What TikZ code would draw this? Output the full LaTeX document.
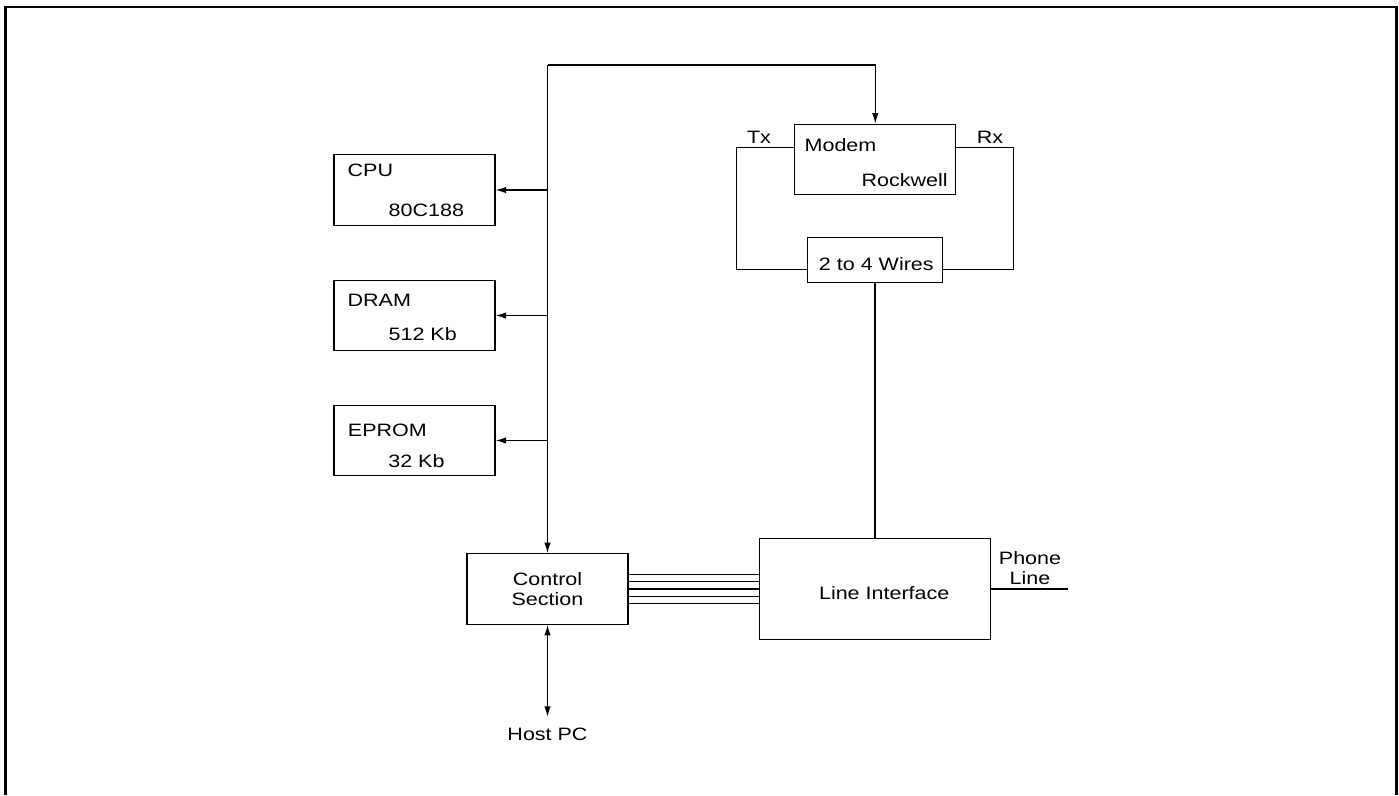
\documentclass[tikz,border=0pt]{standalone}
\usepackage{fontspec}
\setmainfont{Liberation Sans}[FakeStretch=1.2]
\usetikzlibrary{arrows.meta}
\begin{document}
\begin{tikzpicture}[x=0.02cm, y=-0.02cm, >={Latex[length=2.1mm,width=1.3mm]},
    font=\fontsize{10.2}{11}\selectfont, line width=0.75pt]
    \tikzset{blk/.style={draw, minimum width=3.22cm, minimum height=1.41cm, inner sep=0pt, align=center},
             lbl/.style={inner sep=0pt, anchor=base west}}
    \useasboundingbox (0,0) rectangle (1399,795);
    \draw[line width=1.4pt] (5.5,795) -- (5.5,7) -- (1396.5,7) -- (1396.5,795);
    % memory and cpu
    \node[blk] (cpu) at (414.5,190) {};
    \node[blk] (dram) at (414.5,315.5) {};
    \node[blk] (eprom) at (414.5,440.5) {};
    \node[lbl] (cpuname) at (347,176) {CPU};
    \node[lbl] (cputype) at (388,216) {80C188};
    \node[lbl] (dramname) at (347,306.7) {DRAM};
    \node[lbl] (dramsize) at (388,340) {512 Kb};
    \node[lbl] (epromname) at (347.3,436) {EPROM};
    \node[lbl] (epromsize) at (387.7,467.7) {32 Kb};
    % modem side
    \node[blk] (modem) at (875.3,159.5) {};
    \node[lbl] (modemname) at (804,151.7) {Modem};
    \node[lbl, anchor=base east] (modemmaker) at (948.3,186.7) {Rockwell};
    \node[draw, minimum width=2.69cm, minimum height=0.91cm] (conv) at (875,260) {};
    \node[lbl, anchor=base] (convtext) at (876.3,270.7) {2 to 4 Wires};
    \node[lbl, anchor=base] (tx) at (759,143.3) {Tx};
    \node[lbl, anchor=base] (rx) at (990,143.3) {Rx};
    % bottom row
    \node[blk] (ctrl) at (547.5,589) {Control\\Section};
    \node[draw, minimum width=4.63cm, minimum height=2.02cm] (lif) at (875,589) {};
    \node[lbl, anchor=base] (liftext) at (884.2,599.3) {Line Interface};
    \node[inner sep=0pt, anchor=south, align=center] (phone) at (1030,585) {Phone\\Line};
    \node[lbl, anchor=base] (host) at (547.5,740) {Host PC};
    \coordinate (bustop) at (547.5,65);
    \coordinate (lineend) at (1068,589);
    \coordinate (txtop) at (736.7,147.7);
    \coordinate (txbot) at (736.7,269.3);
    \coordinate (rxtop) at (1013.3,147.7);
    \coordinate (rxbot) at (1013.3,269.3);
    % bus
    \draw[->] (bustop) -| (modem.north);
    \draw[->] (bustop) -- (ctrl.north);
    \foreach \m in {cpu,dram,eprom}
        \draw[->] (\m.east -| bustop) -- (\m.east);
    % modem wiring
    \draw (modem.west |- txtop) -- (txtop) -- (txbot) -- (conv.west |- txbot);
    \draw (modem.east |- rxtop) -- (rxtop) -- (rxbot) -- (conv.east |- rxbot);
    \draw (conv.south) -- (lif.north);
    \foreach \k in {-2,...,2}
        \draw ([yshift=\k*0.144cm]ctrl.east) -- ([yshift=\k*0.144cm]lif.west);
    \draw (lif.east) -- (lineend);
    \draw[<->, shorten >=0.2cm] (ctrl.south) -- (host.north);
\end{tikzpicture}
\end{document}
